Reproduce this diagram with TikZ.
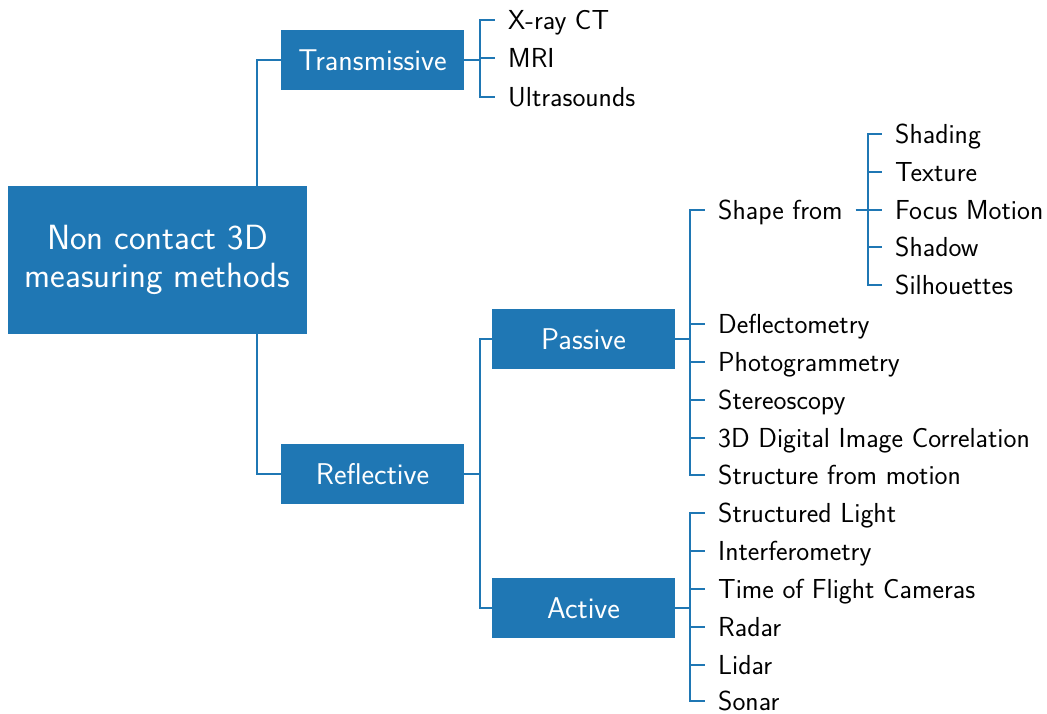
\documentclass[tikz,border=0pt]{standalone}
\renewcommand{\familydefault}{\sfdefault}
\begin{document}
\begin{tikzpicture}[x=1pt,y=-1pt,
  every node/.style={font=\sffamily},
  conn/.style={draw=mplblue,line width=2.2pt},
  box/.style={fill=mplblue,text=white,minimum width=183pt,minimum height=60pt,inner sep=0pt,text height=20pt,text depth=0pt,font=\fontsize{30}{36}\selectfont\sffamily},
  rootbox/.style={fill=mplblue,text=white,minimum width=299pt,minimum height=148pt,inner sep=0pt,align=center,font=\fontsize{35}{38}\selectfont\sffamily},
  leaf/.style={anchor=west,inner xsep=13pt,inner ysep=0pt,text height=19pt,text depth=0pt,font=\fontsize{27.5}{32}\selectfont\sffamily}
]
\definecolor{mplblue}{HTML}{1F77B4}
\useasboundingbox (0,0) rectangle (1047,713);
\node[rootbox] (root) at (157.5,260) {Non contact 3D\\measuring methods};
\node[box] (trans) at (372.5,60) {Transmissive};
\node[box] (refl) at (372.5,474) {Reflective};
\node[box] (pass) at (583.5,339) {Passive};
\node[box] (act) at (583.5,608) {Active};
% root connectors
\draw[conn] (root.north -| 257,0) |- (trans.west);
\draw[conn] (root.south -| 257,0) |- (refl.west);
% transmissive leaves
\node[leaf] (xray) at (495,20) {X-ray CT};
\node[leaf] (mri) at (495,58) {MRI};
\node[leaf] (us) at (495,97) {Ultrasounds};
\coordinate (tj) at (480,60);
\draw[conn] (trans.east) -- (tj);
\foreach \n in {xray,mri,us} \draw[conn] (tj) |- (\n.west);
% reflective
\coordinate (rj) at (480,474);
\draw[conn] (refl.east) -- (rj);
\draw[conn] (rj) |- (pass.west);
\draw[conn] (rj) |- (act.west);
% passive
\node[leaf] (sf) at (705,210) {Shape from};
\node[leaf] (defl) at (705,324) {Deflectometry};
\node[leaf] (photo) at (705,362) {Photogrammetry};
\node[leaf] (stereo) at (705,400) {Stereoscopy};
\node[leaf] (dic) at (705,438) {3D Digital Image Correlation};
\node[leaf] (sfm) at (705,475) {Structure from motion};
\coordinate (pj) at (690,339);
\draw[conn] (pass.east) -- (pj);
\foreach \n in {sf,defl,photo,stereo,dic,sfm} \draw[conn] (pj) |- (\n.west);
% active
\node[leaf] (sl) at (705,513) {Structured Light};
\node[leaf] (interf) at (705,551) {Interferometry};
\node[leaf] (tof) at (705,589) {Time of Flight Cameras};
\node[leaf] (radar) at (705,627) {Radar};
\node[leaf] (lidar) at (705,665) {Lidar};
\node[leaf] (sonar) at (705,701) {Sonar};
\coordinate (aj) at (690,608);
\draw[conn] (act.east) -- (aj);
\foreach \n in {sl,interf,tof,radar,lidar,sonar} \draw[conn] (aj) |- (\n.west);
% shape from
\node[leaf] (shading) at (882,134) {Shading};
\node[leaf] (texture) at (882,172) {Texture};
\node[leaf] (focus) at (882,210) {Focus Motion};
\node[leaf] (shadow) at (882,247) {Shadow};
\node[leaf] (silh) at (882,285) {Silhouettes};
\coordinate (sj) at (868,210);
\draw[conn] (sf.east) -- (sj);
\foreach \n in {shading,texture,focus,shadow,silh} \draw[conn] (sj) |- (\n.west);
\end{tikzpicture}
\end{document}
